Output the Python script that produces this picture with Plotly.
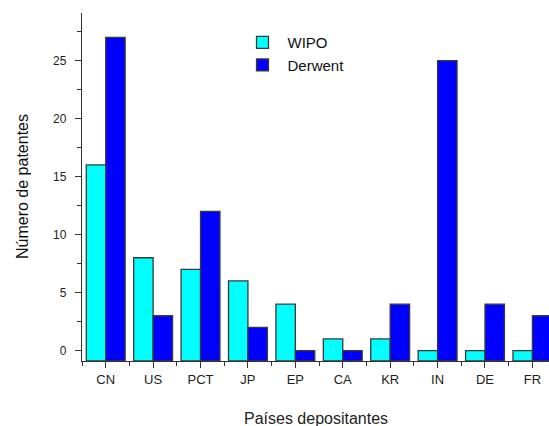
import plotly.graph_objects as go

categories = ["CN", "US", "PCT", "JP", "EP", "CA", "KR", "IN", "DE", "FR"]
wipo = [16, 8, 7, 6, 4, 1, 1, 0, 0, 0]
derwent = [27, 3, 12, 2, 0, 0, 4, 25, 4, 3]

Y_MIN, Y_MAX = -0.9, 29.1
xpos = list(range(len(categories)))

fig = go.Figure()
for name, vals, col in [("WIPO", wipo, "#00FFFF"), ("Derwent", derwent, "#0000FF")]:
    fig.add_trace(go.Bar(
        x=xpos, y=[v - Y_MIN for v in vals], base=Y_MIN, name=name,
        marker=dict(color=col, line=dict(color="#3a3a3a", width=1.3)),
        hovertext=[str(v) for v in vals],
    ))

fig.update_layout(
    width=549, height=426,
    margin=dict(l=82, r=0, t=13, b=65, autoexpand=False),
    paper_bgcolor="white", plot_bgcolor="white",
    barmode="group", bargap=0.18, bargroupgap=0,
    font=dict(family="Liberation Sans, Arial", color="#222222"),
    showlegend=True,
    legend=dict(x=0.333, y=0.962, xanchor="left", yanchor="top",
                font=dict(size=15, color="#111111"), bgcolor="rgba(0,0,0,0)",
                itemwidth=40, tracegroupgap=2),
    annotations=[
        dict(text="Países depositantes", xref="paper", yref="paper", x=0.5, y=0,
             xanchor="center", yanchor="middle", yshift=-57, showarrow=False,
             font=dict(size=16, color="#222222")),
        dict(text="Número de patentes", xref="paper", yref="paper", x=0, y=0.5,
             xanchor="center", yanchor="middle", xshift=-60, textangle=-90, showarrow=False,
             font=dict(size=16, color="#111111")),
    ],
)
fig.update_xaxes(
    range=[-0.5, 9.35], tickvals=xpos, ticktext=categories, automargin=False,
    showline=True, linecolor="#333333", linewidth=1.3,
    ticks="outside", ticklen=6, tickcolor="#333333", tickwidth=1.3,
    minor=dict(ticks="outside", dtick=1, tick0=0.5, ticklen=4, tickcolor="#333333", tickwidth=1.3),
    showgrid=False, zeroline=False,
    tickfont=dict(size=13, color="#222222"),
)
fig.update_yaxes(
    range=[Y_MIN, Y_MAX], tickvals=[0, 5, 10, 15, 20, 25], automargin=False,
    showline=True, linecolor="#333333", linewidth=1.3,
    ticks="outside", ticklen=6, tickcolor="#333333", tickwidth=1.3,
    minor=dict(ticks="outside", tickvals=[2.5, 7.5, 12.5, 17.5, 22.5, 27.5], ticklen=4, tickcolor="#333333", tickwidth=1.3),
    showgrid=False, zeroline=False, ticklabelstandoff=6,
    tickfont=dict(size=12, color="#222222"),
)

fig.write_html("out.html", config={"displayModeBar": False},
               post_script="document.body.style.margin='0';document.body.style.overflow='hidden';")
